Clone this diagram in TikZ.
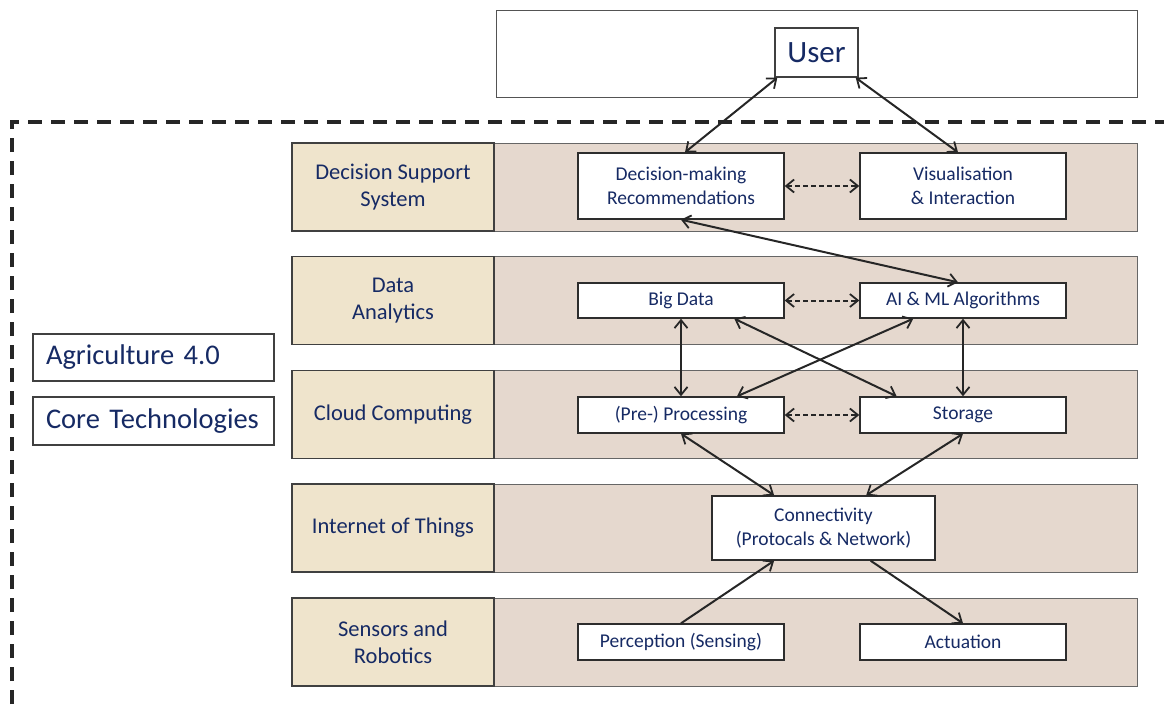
\documentclass[tikz,border=0pt]{standalone}
\usepackage{fontspec}
\setmainfont{Carlito}
\usetikzlibrary{arrows.meta,calc}
\definecolor{txt}{RGB}{22,42,100}
\definecolor{lab}{RGB}{239,228,204}
\definecolor{band}{RGB}{229,216,206}
\definecolor{edge}{RGB}{64,64,64}
\begin{document}
\begin{tikzpicture}[x=1pt,y=-1pt,
  bandbox/.style={draw=edge!80, line width=1pt, fill=band, inner sep=0pt, minimum width=643pt, minimum height=88pt},
  labbox/.style={draw=edge, line width=1.3pt, fill=lab, inner sep=0pt, minimum width=202pt, minimum height=88pt, text=txt, align=center, font=\fontsize{22.5}{27}\selectfont},
  box/.style={draw=edge!70!black, line width=1.4pt, fill=white, inner sep=0pt, text=txt, align=center, font=\fontsize{19.5}{23.5}\selectfont, minimum width=206pt},
  sidebox/.style={draw=edge, line width=1.3pt, fill=white, inner xsep=13pt, inner ysep=0pt, text width=215pt, align=left, minimum height=47pt, text=txt, font=\fontsize{28.5}{32}\selectfont},
  barb/.tip={Straight Barb[length=8pt,width=13pt,line width=1.8pt]},
  dbl/.style={barb-barb, line width=2pt, draw=black!85},
  sgl/.style={-barb, line width=2pt, draw=black!85},
  dsh/.style={barb-barb, line width=2pt, draw=black!85, dash pattern=on 5pt off 3pt},
  frame/.style={draw=black!85, line width=3.5pt, dash pattern=on 14pt off 9pt}
]
\useasboundingbox (0,0) rectangle (1164,704);
% user area
\node[draw=edge!90, line width=1pt, inner sep=0pt, minimum width=641pt, minimum height=87pt] (userarea) at (816.5,53.5) {};
\node[draw=edge, line width=1.4pt, fill=white, inner sep=0pt, minimum width=83pt, minimum height=49pt, text=txt, font=\fontsize{31}{34}\selectfont] (user) at (816.5,52.5) {User};
% frame
\coordinate (f1) at (12,704);
\coordinate (f2) at (12,122);
\coordinate (f3) at (1164,122);
\draw[frame] (f1) -- (f2) -- (f3);
% bands
\node[bandbox] (b1) at (815.5,187) {};
\node[bandbox] (b2) at (815.5,300.5) {};
\node[bandbox] (b3) at (815.5,414.5) {};
\node[bandbox] (b4) at (815.5,528) {};
\node[bandbox] (b5) at (815.5,642) {};
% labels
\node[labbox] (l1) at (393,187) {Decision Support\\System};
\node[labbox] (l2) at (393,300.5) {Data\\Analytics};
\node[labbox] (l3) at (393,414.5) {Cloud Computing};
\node[labbox] (l4) at (393,528) {Internet of Things};
\node[labbox] (l5) at (393,642) {Sensors and\\Robotics};
% side boxes
\node[sidebox] (agri) at (153.5,357.5) {Agriculture 4.0};
\node[sidebox, minimum height=48pt] (core) at (153.5,421) {Core Technologies};
% inner boxes
\node[box, minimum height=66pt] (dm) at (681,186) {Decision-making\\Recommendations};
\node[box, minimum height=66pt] (vis) at (963,186) {Visualisation\\\& Interaction};
\node[box, minimum height=35pt] (bd) at (681,300.5) {Big Data};
\node[box, minimum height=35pt] (ai) at (963,300.5) {AI \& ML Algorithms};
\node[box, minimum height=36pt] (proc) at (681,415) {(Pre-) Processing};
\node[box, minimum height=36pt] (sto) at (963,415) {Storage};
\node[box, minimum height=64pt, minimum width=223pt] (conn) at (823.5,528) {Connectivity\\(Protocals \& Network)};
\node[box, minimum height=36pt] (per) at (681,642) {Perception (Sensing)};
\node[box, minimum height=36pt] (act) at (963,642) {Actuation};
% arrows
\draw[dbl] ($(user.south west)+(3,0)$) -- ($(dm.north)+(4,0)$);
\draw[dbl] ($(user.south east)+(-3,0)$) -- ($(vis.north)+(-5,0)$);
\draw[dsh] (dm.east) -- (vis.west);
\draw[dsh] (bd.east) -- (ai.west);
\draw[dsh] (proc.east) -- (sto.west);
\draw[dbl] (dm.south) -- ($(ai.north)+(-5,0)$);
\draw[dbl] (bd.south) -- (proc.north);
\draw[dbl] (ai.south) -- (sto.north);
\draw[dbl] ($(bd.south west)!0.757!(bd.south east)$) -- ($(sto.north west)!0.18!(sto.north east)$);
\draw[dbl] ($(ai.south west)!0.26!(ai.south east)$) -- ($(proc.north west)!0.77!(proc.north east)$);
\draw[dbl] (proc.south) -- ($(conn.north west)!0.28!(conn.north east)$);
\draw[dbl] (sto.south) -- ($(conn.north west)!0.69!(conn.north east)$);
\draw[sgl] (per.north) -- ($(conn.south west)!0.28!(conn.south east)$);
\draw[sgl] ($(conn.south west)!0.71!(conn.south east)$) -- (act.north);
\end{tikzpicture}
\end{document}
